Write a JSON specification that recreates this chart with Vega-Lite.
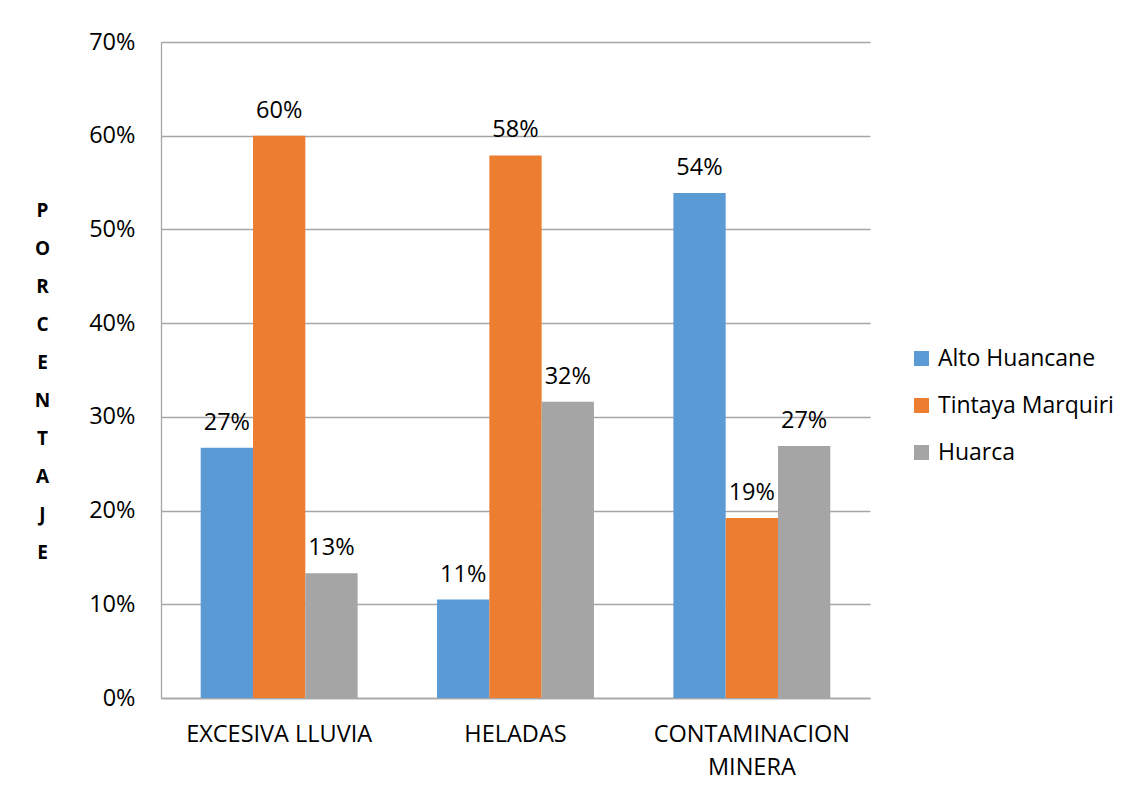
{
  "$schema": "https://vega.github.io/schema/vega-lite/v6.json",
  "autosize": "none",
  "width": 709,
  "height": 656,
  "padding": {"left": 161, "top": 42, "right": 264, "bottom": 92},
  "background": "white",
  "config": {
    "view": {"stroke": null},
    "font": "Open Sans"
  },
  "data": {
    "values": [
      {"causa": "EXCESIVA LLUVIA", "zona": "Alto Huancane", "valor": 0.267},
      {"causa": "EXCESIVA LLUVIA", "zona": "Tintaya Marquiri", "valor": 0.600},
      {"causa": "EXCESIVA LLUVIA", "zona": "Huarca", "valor": 0.133},
      {"causa": "HELADAS", "zona": "Alto Huancane", "valor": 0.105},
      {"causa": "HELADAS", "zona": "Tintaya Marquiri", "valor": 0.579},
      {"causa": "HELADAS", "zona": "Huarca", "valor": 0.316},
      {"causa": "CONTAMINACION MINERA", "zona": "Alto Huancane", "valor": 0.539},
      {"causa": "CONTAMINACION MINERA", "zona": "Tintaya Marquiri", "valor": 0.192},
      {"causa": "CONTAMINACION MINERA", "zona": "Huarca", "valor": 0.269}
    ]
  },
  "encoding": {
    "x": {
      "field": "causa",
      "type": "nominal",
      "sort": ["EXCESIVA LLUVIA", "HELADAS", "CONTAMINACION MINERA"],
      "scale": {"paddingInner": 0.336, "paddingOuter": 0.168},
      "axis": {
        "title": null,
        "labelAngle": 0,
        "labelFontSize": 23.5,
        "labelColor": "#000000",
        "labelPadding": 24,
        "labelLineHeight": 33,
        "labelBaseline": "top",
        "labelLimit": 0,
        "labelExpr": "datum.value == 'CONTAMINACION MINERA' ? ['CONTAMINACION', 'MINERA'] : datum.value",
        "ticks": false,
        "domainColor": "#a6a6a6",
        "domainWidth": 1.3,
        "grid": false
      }
    },
    "xOffset": {
      "field": "zona",
      "type": "nominal",
      "sort": ["Alto Huancane", "Tintaya Marquiri", "Huarca"],
      "scale": {"paddingInner": 0, "paddingOuter": 0}
    },
    "y": {
      "field": "valor",
      "type": "quantitative",
      "scale": {"domain": [0, 0.7], "nice": false},
      "axis": {
        "values": [0, 0.1, 0.2, 0.3, 0.4, 0.5, 0.6, 0.7],
        "format": ".0%",
        "labelFontSize": 23.5,
        "labelColor": "#000000",
        "labelPadding": 26,
        "ticks": false,
        "domainColor": "#a6a6a6",
        "domainWidth": 1.3,
        "gridColor": "#a6a6a6",
        "gridWidth": 1.3,
        "title": ["P", "O", "R", "C", "E", "N", "T", "A", "J", "E"],
        "titleAngle": 0,
        "titleFontSize": 19,
        "titleFontWeight": "bold",
        "titleColor": "#000000",
        "titleLineHeight": 38,
        "titleAlign": "center",
        "titleBaseline": "top",
        "titleX": -119,
        "titleY": 159
      }
    }
  },
  "layer": [
    {
      "mark": {"type": "bar"},
      "encoding": {
        "color": {
          "field": "zona",
          "type": "nominal",
          "sort": ["Alto Huancane", "Tintaya Marquiri", "Huarca"],
          "scale": {
            "domain": ["Alto Huancane", "Tintaya Marquiri", "Huarca"],
            "range": ["#5b9bd5", "#ed7d31", "#a5a5a5"]
          },
          "legend": {
            "title": null,
            "orient": "none",
            "legendX": 749,
            "legendY": 305,
            "symbolType": "square",
            "symbolSize": 225,
            "symbolStrokeWidth": 0,
            "labelFontSize": 23,
            "labelColor": "#000000",
            "labelOffset": 5,
            "labelLimit": 0,
            "rowPadding": 23
          }
        }
      }
    },
    {
      "mark": {"type": "text", "baseline": "alphabetic", "dy": -18, "fontSize": 23.5, "color": "#000000"},
      "encoding": {
        "text": {"field": "valor", "type": "quantitative", "format": ".0%"}
      }
    }
  ]
}
